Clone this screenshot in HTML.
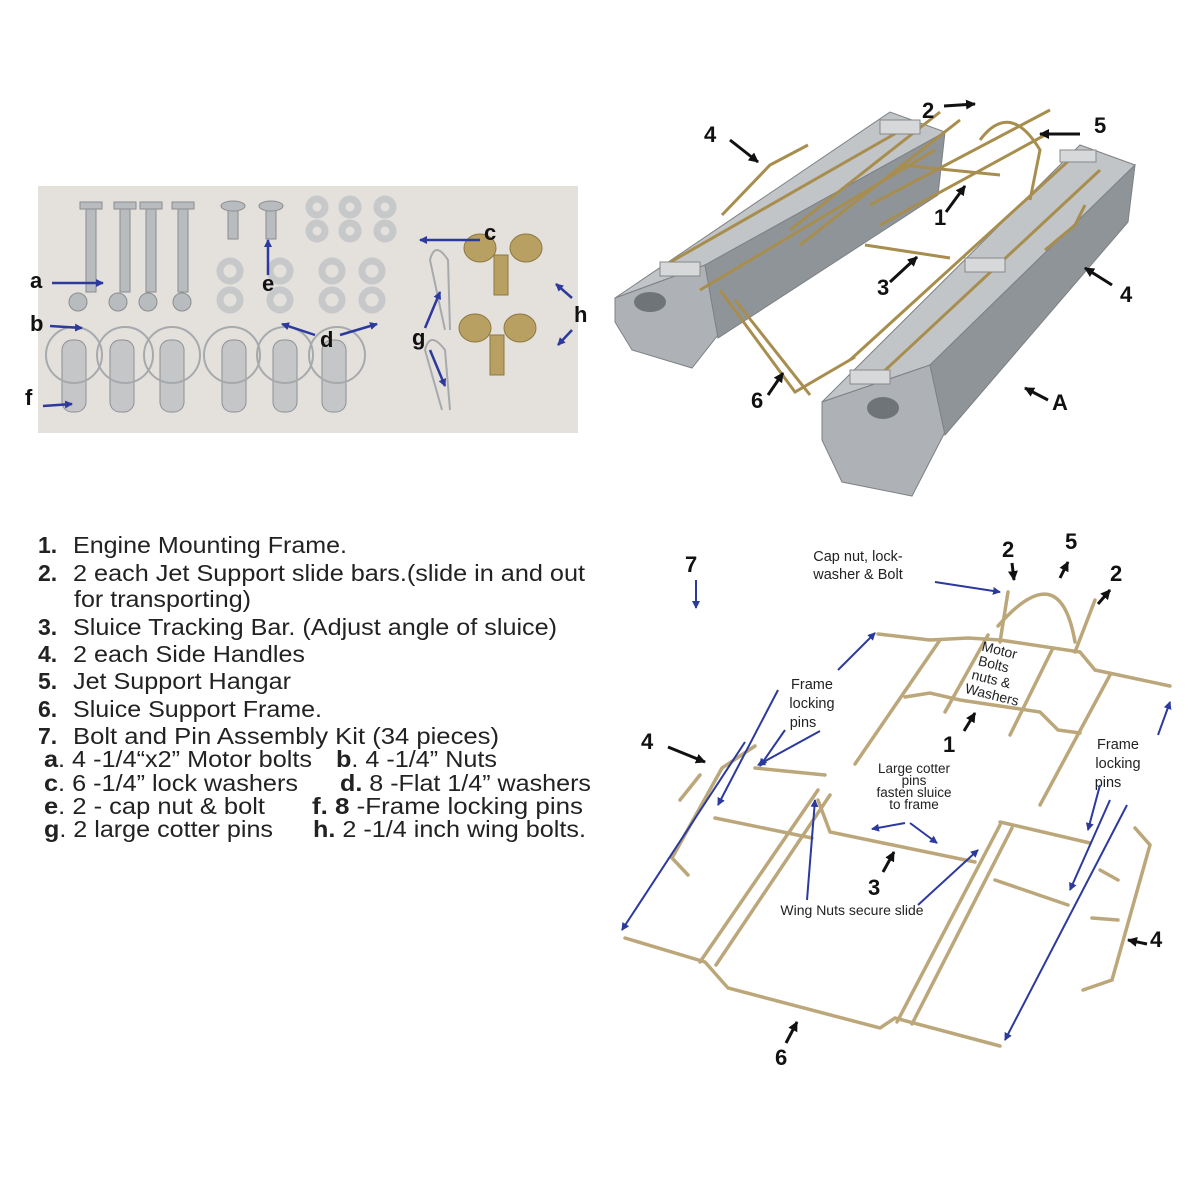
<!DOCTYPE html>
<html><head><meta charset="utf-8"><style>
body{margin:0;background:#fff;}
svg{display:block}
text{font-family:"Liberation Sans",Arial,sans-serif}
</style></head><body>
<svg width="1189" height="1189" viewBox="0 0 1189 1189" xmlns="http://www.w3.org/2000/svg">
<defs>
<marker id="ab" markerWidth="8" markerHeight="8" refX="7" refY="4" orient="auto" markerUnits="userSpaceOnUse" viewBox="0 0 8 8"><path d="M0,0 L8,4 L0,8 z" fill="#2b3a9c"/></marker>
<marker id="ak" markerWidth="10" markerHeight="10" refX="9" refY="5" orient="auto" markerUnits="userSpaceOnUse" viewBox="0 0 10 10"><path d="M0,0 L10,5 L0,10 z" fill="#111"/></marker>
</defs>
<rect width="1189" height="1189" fill="#fff"/>

<!-- Photo kit -->
<rect x="38" y="186" width="540" height="247" fill="#e4e0dc"/>
<g fill="#b9bcbf" stroke="#8a8d90" stroke-width="1">
<rect x="86" y="206" width="10" height="86"/><rect x="120" y="206" width="10" height="86"/><rect x="146" y="206" width="10" height="86"/><rect x="178" y="206" width="10" height="86"/>
<rect x="80" y="202" width="22" height="7"/><rect x="114" y="202" width="22" height="7"/><rect x="140" y="202" width="22" height="7"/><rect x="172" y="202" width="22" height="7"/>
<circle cx="78" cy="302" r="9"/><circle cx="118" cy="302" r="9"/><circle cx="148" cy="302" r="9"/><circle cx="182" cy="302" r="9"/>
<rect x="228" y="204" width="10" height="35"/><rect x="266" y="204" width="10" height="35"/>
<ellipse cx="233" cy="206" rx="12" ry="5"/><ellipse cx="271" cy="206" rx="12" ry="5"/>
</g>
<g fill="none" stroke="#c6c8ca" stroke-width="7">
<circle cx="317" cy="207" r="8"/><circle cx="350" cy="207" r="8"/><circle cx="385" cy="207" r="8"/>
<circle cx="317" cy="231" r="8"/><circle cx="350" cy="231" r="8"/><circle cx="385" cy="231" r="8"/>
<circle cx="230" cy="271" r="10"/><circle cx="280" cy="271" r="10"/><circle cx="332" cy="271" r="10"/><circle cx="372" cy="271" r="10"/>
<circle cx="230" cy="300" r="10"/><circle cx="280" cy="300" r="10"/><circle cx="332" cy="300" r="10"/><circle cx="372" cy="300" r="10"/>
</g>
<g fill="#c4c6c8" stroke="#8e9194">
<rect x="62" y="340" width="24" height="72" rx="10"/><rect x="110" y="340" width="24" height="72" rx="10"/><rect x="160" y="340" width="24" height="72" rx="10"/><rect x="222" y="340" width="24" height="72" rx="10"/><rect x="273" y="340" width="24" height="72" rx="10"/><rect x="322" y="340" width="24" height="72" rx="10"/>
</g>
<g fill="none" stroke="#a7aaad" stroke-width="2">
<circle cx="74" cy="355" r="28"/><circle cx="125" cy="355" r="28"/><circle cx="172" cy="355" r="28"/><circle cx="232" cy="355" r="28"/><circle cx="285" cy="355" r="28"/><circle cx="337" cy="355" r="28"/>
<path d="M445,330 L430,260 Q435,240 448,260 L450,330"/><path d="M442,410 L425,350 Q430,330 445,350 L450,410"/>
</g>
<g fill="#b8a062" stroke="#8c7840">
<ellipse cx="480" cy="248" rx="16" ry="14"/><ellipse cx="526" cy="248" rx="16" ry="14"/><rect x="494" y="255" width="14" height="40"/>
<ellipse cx="475" cy="328" rx="16" ry="14"/><ellipse cx="520" cy="328" rx="16" ry="14"/><rect x="490" y="335" width="14" height="40"/>
</g>
<g font-size="22" font-weight="bold" fill="#111">
<text x="30" y="288">a</text><text x="30" y="331">b</text><text x="25" y="405">f</text><text x="262" y="291">e</text><text x="320" y="347">d</text><text x="484" y="240">c</text><text x="412" y="345">g</text><text x="574" y="322">h</text>
</g>
<g stroke="#2b3a9c" stroke-width="2.5" fill="none" marker-end="url(#ab)">
<line x1="52" y1="283" x2="103" y2="283"/><line x1="50" y1="326" x2="82" y2="328"/><line x1="43" y1="406" x2="72" y2="404"/>
<line x1="268" y1="275" x2="268" y2="240"/><line x1="315" y1="335" x2="282" y2="324"/><line x1="340" y1="335" x2="377" y2="324"/>
<line x1="480" y1="240" x2="420" y2="240"/><line x1="425" y1="328" x2="440" y2="292"/><line x1="430" y1="350" x2="445" y2="386"/>
<line x1="572" y1="298" x2="556" y2="284"/><line x1="572" y1="330" x2="558" y2="345"/>
</g>

<!-- Pontoons -->
<g stroke="#7c8185" stroke-width="1">
<polygon points="615,298 705,265 945,132 890,112" fill="#c2c5c8"/>
<polygon points="615,298 705,265 718,335 692,368 632,350 615,322" fill="#aeb2b6"/>
<polygon points="705,265 945,132 938,195 718,338" fill="#8f9499"/>
<polygon points="822,402 930,365 1135,165 1080,145" fill="#c2c5c8"/>
<polygon points="822,402 930,365 945,432 912,496 842,482 822,440" fill="#aeb2b6"/>
<polygon points="930,365 1135,165 1128,222 945,435" fill="#8f9499"/>
</g>
<ellipse cx="650" cy="302" rx="16" ry="10" fill="#6f7479"/>
<ellipse cx="883" cy="408" rx="16" ry="11" fill="#6f7479"/>
<g stroke="#a88e4e" stroke-width="3" fill="none">
<line x1="660" y1="268" x2="905" y2="128"/><line x1="700" y1="290" x2="935" y2="150"/>
<line x1="850" y1="360" x2="1075" y2="155"/><line x1="880" y1="375" x2="1100" y2="170"/>
<line x1="790" y1="230" x2="940" y2="112"/><line x1="800" y1="245" x2="960" y2="120"/>
<line x1="870" y1="205" x2="1050" y2="110"/><line x1="880" y1="225" x2="1045" y2="135"/>
<path d="M720,290 L795,392 L855,357"/><path d="M735,300 L810,395"/>
<path d="M865,245 L950,258"/><path d="M900,165 L1000,175"/>
<path d="M980,140 Q1010,100 1040,150 L1030,200"/>
<path d="M722,215 L770,165 L808,145"/><path d="M1045,250 L1075,225 L1085,205"/>
</g>
<g fill="#d6d8da" stroke="#888">
<rect x="660" y="262" width="40" height="14"/><rect x="850" y="370" width="40" height="14"/><rect x="965" y="258" width="40" height="14"/><rect x="880" y="120" width="40" height="14"/><rect x="1060" y="150" width="36" height="12"/>
</g>
<g font-size="22" font-weight="bold" fill="#111">
<text x="704" y="142">4</text><text x="922" y="118">2</text><text x="1094" y="133">5</text><text x="934" y="225">1</text><text x="877" y="295">3</text><text x="1120" y="302">4</text><text x="751" y="408">6</text><text x="1052" y="410">A</text>
</g>
<g stroke="#111" stroke-width="3" marker-end="url(#ak)">
<line x1="730" y1="140" x2="758" y2="162"/><line x1="944" y1="106" x2="975" y2="104"/><line x1="1080" y1="134" x2="1040" y2="134"/>
<line x1="946" y1="212" x2="965" y2="186"/><line x1="890" y1="282" x2="917" y2="257"/><line x1="1112" y1="285" x2="1085" y2="268"/>
<line x1="768" y1="395" x2="783" y2="373"/><line x1="1048" y1="400" x2="1025" y2="388"/>
</g>

<!-- Text list -->
<g font-size="23" fill="#222">
<g font-weight="bold">
<text x="38" y="553">1.</text><text x="38" y="581">2.</text><text x="38" y="635">3.</text><text x="38" y="662">4.</text><text x="38" y="689">5.</text><text x="38" y="717">6.</text><text x="38" y="744">7.</text>
</g>
<text x="73" y="553" textLength="274" lengthAdjust="spacingAndGlyphs">Engine Mounting Frame.</text>
<text x="73" y="581" textLength="512" lengthAdjust="spacingAndGlyphs">2 each Jet Support slide bars.(slide in and out</text>
<text x="74" y="607" textLength="177" lengthAdjust="spacingAndGlyphs">for transporting)</text>
<text x="73" y="635" textLength="484" lengthAdjust="spacingAndGlyphs">Sluice Tracking Bar. (Adjust angle of sluice)</text>
<text x="73" y="662" textLength="232" lengthAdjust="spacingAndGlyphs">2 each Side Handles</text>
<text x="73" y="689" textLength="218" lengthAdjust="spacingAndGlyphs">Jet Support Hangar</text>
<text x="73" y="717" textLength="249" lengthAdjust="spacingAndGlyphs">Sluice Support Frame.</text>
<text x="73" y="744" textLength="426" lengthAdjust="spacingAndGlyphs">Bolt and Pin Assembly Kit  (34 pieces)</text>
<text x="44" y="767" textLength="268" lengthAdjust="spacingAndGlyphs"><tspan font-weight="bold">a</tspan>. 4 -1/4“x2” Motor bolts</text>
<text x="336" y="767" textLength="161" lengthAdjust="spacingAndGlyphs"><tspan font-weight="bold">b</tspan>. 4 -1/4” Nuts</text>
<text x="44" y="791" textLength="254" lengthAdjust="spacingAndGlyphs"><tspan font-weight="bold">c</tspan>. 6 -1/4” lock washers</text>
<text x="340" y="791" textLength="251" lengthAdjust="spacingAndGlyphs"><tspan font-weight="bold">d.</tspan> 8 -Flat 1/4” washers</text>
<text x="44" y="814" textLength="221" lengthAdjust="spacingAndGlyphs"><tspan font-weight="bold">e</tspan>. 2 - cap nut &amp; bolt</text>
<text x="312" y="814" textLength="271" lengthAdjust="spacingAndGlyphs"><tspan font-weight="bold">f.  8</tspan> -Frame locking pins</text>
<text x="44" y="837" textLength="229" lengthAdjust="spacingAndGlyphs"><tspan font-weight="bold">g</tspan>. 2 large cotter pins</text>
<text x="313" y="837" textLength="273" lengthAdjust="spacingAndGlyphs"><tspan font-weight="bold">h.</tspan> 2 -1/4 inch wing bolts.</text>
</g>

<!-- Wireframe diagram -->
<g stroke="#bba77a" stroke-width="3.5" fill="none" stroke-linecap="round">
<path d="M878,634 L930,640 L968,638 L1000,640 L1080,652 L1095,670 L1170,686"/>
<path d="M905,697 L930,693 L960,700 L1040,712 L1058,730 L1080,733"/>
<line x1="855" y1="764" x2="940" y2="640"/><line x1="1040" y1="805" x2="1110" y2="675"/>
<line x1="945" y1="712" x2="988" y2="635"/><line x1="1010" y1="735" x2="1052" y2="650"/>
<line x1="1000" y1="642" x2="1008" y2="592"/><line x1="1075" y1="652" x2="1095" y2="600"/>
<path d="M998,626 Q1060,555 1075,642"/>
<line x1="700" y1="962" x2="818" y2="790"/><line x1="716" y1="965" x2="830" y2="795"/>
<line x1="897" y1="1022" x2="1000" y2="825"/><line x1="912" y1="1024" x2="1012" y2="828"/>
<path d="M625,938 L705,962 L728,988 L880,1028 L895,1018 L1000,1046"/>
<path d="M818,800 L830,832 L975,862"/>
<line x1="755" y1="768" x2="825" y2="775"/><line x1="715" y1="818" x2="812" y2="838"/>
<line x1="1000" y1="822" x2="1090" y2="843"/><line x1="995" y1="880" x2="1068" y2="905"/>
<path d="M755,746 L722,768 L672,858 L688,875"/><path d="M700,775 L680,800"/>
<path d="M1135,828 L1150,845 L1112,980 L1083,990"/><path d="M1118,920 L1092,918"/><path d="M1118,880 L1100,870"/>
</g>
<g font-size="14.5" fill="#222" text-anchor="middle">
<text x="858" y="561">Cap nut, lock-</text><text x="858" y="579">washer &amp; Bolt</text>
<text x="812" y="689">Frame</text><text x="812" y="708">locking</text><text x="803" y="727">pins</text>
<text x="1118" y="749">Frame</text><text x="1118" y="768">locking</text><text x="1108" y="787">pins</text>
<text x="914" y="773" font-size="13.5">Large cotter</text><text x="914" y="785" font-size="13.5">pins</text><text x="914" y="797" font-size="13.5">fasten sluice</text><text x="914" y="809" font-size="13.5">to frame</text>
<text x="852" y="915" font-size="14">Wing Nuts secure slide</text>
</g>
<g font-size="14" fill="#222" transform="rotate(14 998 665)">
<text x="978" y="655">Motor</text><text x="978" y="670">Bolts</text><text x="975" y="685">nuts &amp;</text><text x="972" y="700">Washers</text>
</g>
<g font-size="22" font-weight="bold" fill="#111">
<text x="685" y="572">7</text><text x="1002" y="557">2</text><text x="1065" y="549">5</text><text x="1110" y="581">2</text><text x="943" y="752">1</text><text x="641" y="749">4</text><text x="868" y="895">3</text><text x="1150" y="947">4</text><text x="775" y="1065">6</text>
</g>
<g stroke="#2b3a9c" stroke-width="2" marker-end="url(#ab)">
<line x1="696" y1="580" x2="696" y2="608"/><line x1="935" y1="582" x2="1000" y2="592"/>
<line x1="838" y1="670" x2="875" y2="633"/><line x1="778" y1="690" x2="718" y2="805"/><line x1="785" y1="730" x2="760" y2="766"/><line x1="820" y1="731" x2="758" y2="765"/>
<line x1="745" y1="742" x2="622" y2="930"/>
<line x1="1158" y1="735" x2="1170" y2="702"/><line x1="1100" y1="785" x2="1088" y2="830"/><line x1="1110" y1="800" x2="1070" y2="890"/><line x1="1127" y1="805" x2="1005" y2="1040"/>
<line x1="905" y1="823" x2="872" y2="829"/><line x1="910" y1="823" x2="937" y2="843"/>
<line x1="807" y1="900" x2="815" y2="800"/><line x1="918" y1="905" x2="978" y2="850"/>
</g>
<g stroke="#111" stroke-width="3" marker-end="url(#ak)">
<line x1="1012" y1="563" x2="1014" y2="580"/><line x1="1060" y1="578" x2="1068" y2="562"/><line x1="1098" y1="604" x2="1110" y2="590"/>
<line x1="964" y1="731" x2="975" y2="713"/><line x1="668" y1="747" x2="705" y2="762"/><line x1="883" y1="872" x2="894" y2="852"/><line x1="1147" y1="944" x2="1128" y2="940"/><line x1="786" y1="1043" x2="797" y2="1022"/>
</g>
</svg>
</body></html>
